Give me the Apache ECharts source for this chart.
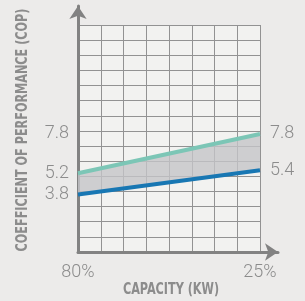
<!DOCTYPE html>
<html>
<head>
<meta charset="utf-8">
<script src="https://cdn.jsdelivr.net/npm/echarts@6/dist/echarts.min.js"></script>
<style>
  html, body { margin: 0; padding: 0; background: #ecebea; }
  #chart { width: 305px; height: 301px; }
</style>
</head>
<body>
<div id="chart"></div>
<script>
// capacity labels at the two ends of the chart
const capacity = ["80%", "25%"];

// COP values at 80% and 25% capacity
const upperCop = [5.2, 7.8];
const lowerCop = [3.8, 5.4];

// tick labels printed beside the chart
const leftTicks = [7.8, 5.2, 3.8];
const rightTicks = [7.8, 5.4];

const GREY = "#8c8c8c";
const AXIS = "#828282";
const GRIDLINE = "#929292";
const NUM_FONT = "Roboto";
const TITLE_FONT = "bold 16px 'DejaVu Sans Condensed', sans-serif";

const chart = echarts.init(document.getElementById("chart"), null, { renderer: "canvas" });

const bandGap = upperCop.map((v, i) => +(v - lowerCop[i]).toFixed(2));

const numLabel = {
  color: GREY,
  fontFamily: NUM_FONT,
  fontWeight: 300,
  fontSize: 18,
};

const arrowLine = {
  show: true,
  lineStyle: { color: AXIS, width: 3 },
  symbol: ["none", "arrow"],
  symbolSize: [13, 13],
};

const option = {
  backgroundColor: "#ecebea",
  animation: false,
  grid: [
    { left: 78, right: 45, top: 25, bottom: 49, show: true, backgroundColor: "#f2f2f0", borderWidth: 0 },
    // only used for the longer axes with arrows
    { left: 78, right: 27, top: 6, bottom: 49 },
  ],
  xAxis: [
    {
      // grid columns
      type: "value",
      gridIndex: 0,
      position: "bottom",
      min: 0,
      max: 8,
      interval: 1,
      axisLine: { show: false },
      axisTick: { show: false },
      axisLabel: { show: false },
      splitLine: { show: true, lineStyle: { color: GRIDLINE, width: 1 } },
    },
    {
      type: "category",
      gridIndex: 0,
      position: "bottom",
      data: capacity,
      boundaryGap: false,
      axisLine: { show: false },
      axisTick: { show: false },
      splitLine: { show: false },
      axisLabel: Object.assign({ margin: 11 }, numLabel),
    },
    {
      type: "value",
      gridIndex: 1,
      min: 0,
      max: 1,
      axisLine: arrowLine,
      axisTick: { show: false },
      axisLabel: { show: false },
      splitLine: { show: false },
    },
  ],
  yAxis: [
    {
      type: "value",
      gridIndex: 0,
      min: 0,
      max: 15,
      interval: 1,
      axisLine: { show: false },
      axisTick: { show: false },
      splitLine: { show: true, lineStyle: { color: GRIDLINE, width: 1 } },
      axisLabel: Object.assign({
        customValues: leftTicks,
        formatter: (v) => v.toFixed(1),
        margin: 9,
      }, numLabel),
    },
    {
      type: "value",
      gridIndex: 0,
      position: "right",
      min: 0,
      max: 15,
      axisLine: { show: false },
      axisTick: { show: false },
      splitLine: { show: false },
      axisLabel: Object.assign({
        customValues: rightTicks,
        formatter: (v) => v.toFixed(1),
        margin: 10,
      }, numLabel),
    },
    {
      type: "value",
      gridIndex: 1,
      min: 0,
      max: 1,
      axisLine: arrowLine,
      axisTick: { show: false },
      axisLabel: { show: false },
      splitLine: { show: false },
    },
  ],
  graphic: [
    {
      type: "text",
      x: 23,
      y: 130,
      rotation: Math.PI / 2,
      scaleX: 0.78,
      style: { text: "COEFFICIENT OF PERFORMANCE (COP)", font: TITLE_FONT, fill: GREY, align: "center", verticalAlign: "middle" },
    },
    {
      type: "text",
      x: 171,
      y: 290,
      scaleX: 0.78,
      style: { text: "CAPACITY (KW)", font: TITLE_FONT, fill: GREY, align: "center", verticalAlign: "middle" },
    },
  ],
  series: [
    {
      type: "line",
      xAxisIndex: 1,
      stack: "band",
      data: lowerCop,
      symbol: "none",
      lineStyle: { opacity: 0 },
      silent: true,
    },
    {
      type: "line",
      xAxisIndex: 1,
      stack: "band",
      data: bandGap,
      symbol: "none",
      lineStyle: { opacity: 0 },
      areaStyle: { color: "#c4c4c8", opacity: 0.8 },
      silent: true,
    },
    {
      type: "line",
      xAxisIndex: 1,
      data: upperCop,
      symbol: "none",
      lineStyle: { color: "#7cc6b6", width: 4 },
      z: 5,
    },
    {
      type: "line",
      xAxisIndex: 1,
      data: lowerCop,
      symbol: "none",
      lineStyle: { color: "#1877b3", width: 4 },
      z: 5,
    },
  ],
};

chart.setOption(option);
</script>
</body>
</html>
